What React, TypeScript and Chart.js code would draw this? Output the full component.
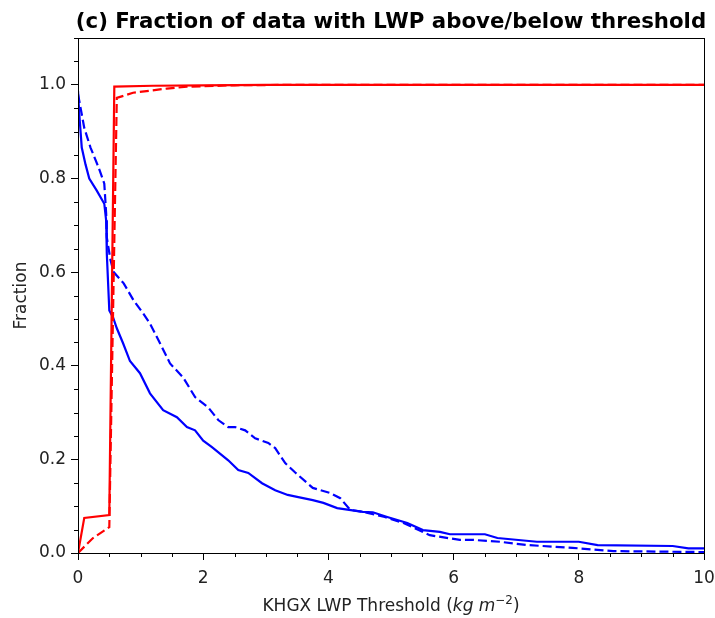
import React, { useEffect, useRef } from "react";
import { Chart, registerables } from "chart.js";

Chart.register(...registerables);

const titleText = "(c) Fraction of data with LWP above/below threshold";
const yAxisLabel = "Fraction";
const xLabelParts = ["KHGX LWP Threshold (", "kg m", "\u22122", ")"];

const xTicks = [0, 2, 4, 6, 8, 10];
const yTicks = [0.0, 0.2, 0.4, 0.6, 0.8, 1.0];

// Red solid: fraction below threshold
const redSolidX = [0, 0.1, 0.5, 0.58, 1.2, 2.0, 3.0, 10];
const redSolidY = [0.0, 0.075, 0.081, 0.996, 0.998, 0.999, 1.0, 1.0];

// Red dashed: fraction below threshold
const redDashX = [0, 0.24, 0.5, 0.62, 0.88, 1.42, 1.74, 2.5, 3.5, 10];
const redDashY = [0.0, 0.032, 0.055, 0.972, 0.983, 0.992, 0.996, 0.999, 1.0, 1.0];

// Blue solid: fraction above threshold
const blueSolidX = [0, 0.02, 0.06, 0.12, 0.18, 0.3, 0.42, 0.45, 0.46, 0.5, 0.56, 0.62, 0.72, 0.83, 0.99, 1.15, 1.36, 1.58, 1.74, 1.87, 2.0, 2.14, 2.4, 2.56, 2.72, 2.94, 3.15, 3.35, 3.5, 3.75, 3.92, 4.14, 4.55, 4.71, 4.94, 5.26, 5.51, 5.78, 5.94, 6.5, 6.7, 7.33, 8.0, 8.3, 9.5, 9.75, 10];
const blueSolidY = [0.987, 0.938, 0.866, 0.83, 0.8, 0.774, 0.746, 0.71, 0.64, 0.518, 0.503, 0.48, 0.448, 0.41, 0.384, 0.341, 0.305, 0.29, 0.269, 0.262, 0.24, 0.226, 0.198, 0.177, 0.171, 0.149, 0.134, 0.124, 0.12, 0.113, 0.107, 0.096, 0.088, 0.087, 0.077, 0.064, 0.049, 0.045, 0.04, 0.04, 0.032, 0.024, 0.024, 0.017, 0.015, 0.01, 0.01];

// Blue dashed: fraction above threshold
const blueDashX = [0, 0.02, 0.1, 0.2, 0.33, 0.42, 0.45, 0.46, 0.52, 0.57, 0.73, 0.89, 1.04, 1.15, 1.31, 1.47, 1.68, 1.87, 2.08, 2.24, 2.4, 2.51, 2.67, 2.83, 3.04, 3.15, 3.31, 3.47, 3.75, 4.03, 4.19, 4.35, 4.55, 4.9, 5.2, 5.62, 6.1, 6.31, 6.74, 7.17, 7.9, 8.55, 10];
const blueDashY = [0.98, 0.966, 0.908, 0.866, 0.823, 0.789, 0.725, 0.674, 0.625, 0.6, 0.576, 0.539, 0.512, 0.49, 0.448, 0.405, 0.375, 0.333, 0.311, 0.284, 0.269, 0.269, 0.262, 0.245, 0.235, 0.224, 0.192, 0.172, 0.139, 0.128, 0.117, 0.092, 0.088, 0.077, 0.064, 0.038, 0.028, 0.028, 0.024, 0.017, 0.011, 0.004, 0.002];

const FONT = '"DejaVu Sans", sans-serif';
const TICK_SIZE = 17;
const TITLE_SIZE = 21.3;

function pts(xs: number[], ys: number[]) {
  return xs.map((x, i) => ({ x, y: ys[i] }));
}

export default function App() {
  const ref = useRef<HTMLCanvasElement>(null);

  useEffect(() => {
    document.body.style.margin = "0";
    const canvas = ref.current!;

    const decor = {
      id: "decor",
      afterDraw(chart: any) {
        const { ctx, chartArea: a, scales } = chart;
        const sx = scales.x;
        const sy = scales.y;
        ctx.save();
        ctx.strokeStyle = "#000";
        ctx.lineWidth = 1;
        // minor ticks
        ctx.beginPath();
        for (let i = 0; i <= 20; i++) {
          if (i % 4 === 0) continue;
          const px = Math.round(sx.getPixelForValue(i * 0.5)) + 0.5;
          ctx.moveTo(px, a.bottom);
          ctx.lineTo(px, a.bottom + 4);
        }
        for (let i = 0; i <= 22; i++) {
          if (i % 4 === 0) continue;
          const py = Math.round(sy.getPixelForValue(i * 0.05)) + 0.5;
          ctx.moveTo(a.left, py);
          ctx.lineTo(a.left - 4, py);
        }
        ctx.stroke();
        // frame
        ctx.strokeRect(Math.round(a.left) + 0.5, Math.round(a.top) + 0.5, Math.round(a.right - a.left), Math.round(a.bottom - a.top));
        // title
        ctx.fillStyle = "#000";
        ctx.font = `bold ${TITLE_SIZE}px ${FONT}`;
        ctx.textAlign = "center";
        ctx.textBaseline = "alphabetic";
        ctx.fillText(titleText, (a.left + a.right) / 2, 28);
        // x label with italic units and superscript
        const fNorm = `${TICK_SIZE}px ${FONT}`;
        const fIt = `italic ${TICK_SIZE}px ${FONT}`;
        const fSup = `${TICK_SIZE * 0.7}px ${FONT}`;
        const fonts = [fNorm, fIt, fSup, fNorm];
        const widths = xLabelParts.map((t, i) => {
          ctx.font = fonts[i];
          return ctx.measureText(t).width;
        });
        const total = widths.reduce((s, w) => s + w, 0);
        let x = (a.left + a.right) / 2 - total / 2;
        const base = 611;
        ctx.textAlign = "left";
        xLabelParts.forEach((t, i) => {
          ctx.font = fonts[i];
          ctx.fillStyle = "#222";
          ctx.fillText(t, x, i === 2 ? base - 7 : base);
          x += widths[i];
        });
        ctx.restore();
      },
    };

    const chart = new Chart(canvas, {
      type: "line",
      data: {
        datasets: [
          { label: "below (solid)", data: pts(redSolidX, redSolidY), borderColor: "#ff0000", borderWidth: 2.2, pointRadius: 0, fill: false, order: 0 },
          { label: "below (dashed)", data: pts(redDashX, redDashY), borderColor: "#ff0000", borderWidth: 2.2, borderDash: [9, 4], pointRadius: 0, fill: false, order: 0 },
          { label: "above (solid)", data: pts(blueSolidX, blueSolidY), borderColor: "#0000ff", borderWidth: 2.2, pointRadius: 0, fill: false, order: 1 },
          { label: "above (dashed)", data: pts(blueDashX, blueDashY), borderColor: "#0000ff", borderWidth: 2.2, borderDash: [9, 4], pointRadius: 0, fill: false, order: 1 },
        ],
      },
      options: {
        animation: false,
        responsive: false,
        maintainAspectRatio: false,
        layout: { padding: { left: 0, right: 11, top: 38, bottom: 0 } },
        plugins: {
          legend: { display: false },
          tooltip: { enabled: false },
          title: { display: false },
        },
        scales: {
          x: {
            type: "linear",
            min: 0,
            max: 10,
            afterFit: (s: any) => { s.height = 65; s.paddingLeft = 0; s.paddingRight = 0; },
            afterBuildTicks: (s: any) => { s.ticks = xTicks.map((v) => ({ value: v })); },
            ticks: { color: "#222", font: { family: FONT, size: TICK_SIZE }, padding: 8, maxRotation: 0, callback: (v: any) => String(v) },
            grid: { display: true, drawOnChartArea: false, drawTicks: true, tickLength: 7, color: "#000", lineWidth: 1 },
            border: { display: true, color: "#000", width: 1 },
          },
          y: {
            type: "linear",
            min: 0,
            max: 1.1,
            afterFit: (s: any) => { s.width = 78; s.paddingTop = 0; s.paddingBottom = 0; },
            afterBuildTicks: (s: any) => { s.ticks = yTicks.map((v) => ({ value: v })); },
            ticks: { color: "#222", font: { family: FONT, size: TICK_SIZE }, padding: 5, callback: (v: any) => Number(v).toFixed(1) },
            grid: { display: true, drawOnChartArea: false, drawTicks: true, tickLength: 7, color: "#000", lineWidth: 1 },
            border: { display: true, color: "#000", width: 1 },
            title: { display: true, text: yAxisLabel, color: "#222", font: { family: FONT, size: TICK_SIZE }, padding: { top: 11, bottom: 0 } },
          },
        },
      },
      plugins: [decor],
    } as any);

    return () => chart.destroy();
  }, []);

  return (
    <div style={{ width: 715, height: 618, background: "#fff" }}>
      <canvas ref={ref} width={715} height={618} style={{ display: "block" }} />
    </div>
  );
}
